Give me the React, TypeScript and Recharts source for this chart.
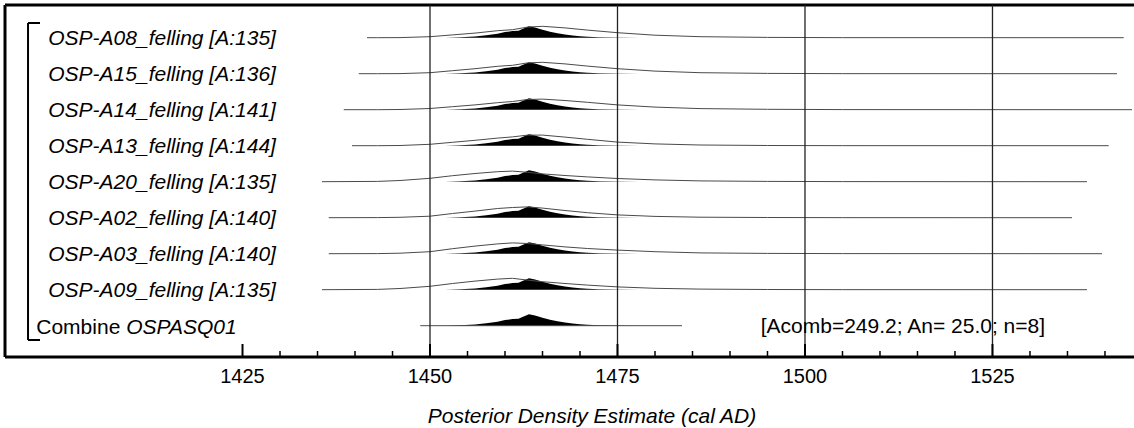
import React from "react";
import { ComposedChart, Line, Area, Scatter, XAxis, YAxis, ReferenceLine } from "recharts";

// --- Data ---

const ROW_NAMES = [
  "OSP-A08_felling [A:135]",
  "OSP-A15_felling [A:136]",
  "OSP-A14_felling [A:141]",
  "OSP-A13_felling [A:144]",
  "OSP-A20_felling [A:135]",
  "OSP-A02_felling [A:140]",
  "OSP-A03_felling [A:140]",
  "OSP-A09_felling [A:135]",
];

// extent of each row's range line (cal AD)
const LINE_START = [1441.6, 1440.5, 1438.5, 1439.6, 1435.6, 1436.5, 1436.5, 1435.6];
const LINE_END = [1542.5, 1541.6, 1543.6, 1540.5, 1537.6, 1535.6, 1539.6, 1537.6];

// likelihood outlines, sampled on these years
const LIKE_YEARS = [1443, 1446, 1450, 1453, 1456, 1459, 1461, 1463, 1465, 1468, 1471, 1475, 1480, 1486, 1495, 1505];
const LIKE_A08 = [0, 0.1, 1.0, 2.8, 4.6, 7.0, 8.0, 10.6, 11.4, 9.8, 7.6, 5.0, 2.5, 1.0, 0.3, 0.05];
const LIKE_A15 = [0, 0.1, 1.0, 3.0, 5.0, 7.4, 8.4, 10.8, 11.4, 9.8, 7.6, 5.0, 2.6, 1.0, 0.3, 0.05];
const LIKE_A14 = [0, 0.2, 1.2, 3.0, 4.8, 7.0, 8.2, 10.2, 10.6, 9.2, 7.4, 4.8, 2.6, 1.1, 0.4, 0.1];
const LIKE_A13 = [0, 0.2, 1.4, 3.4, 5.4, 7.6, 8.8, 10.6, 10.6, 8.6, 6.4, 3.6, 1.8, 0.7, 0.2, 0.05];
const LIKE_A20 = [0.3, 1.2, 3.4, 6.0, 8.2, 10.0, 10.6, 9.4, 7.8, 6.2, 4.8, 3.2, 1.8, 0.8, 0.3, 0.1];
const LIKE_A02 = [0.1, 0.4, 1.5, 4.2, 6.6, 9.2, 10.2, 10.8, 9.6, 7.2, 5.0, 2.8, 1.3, 0.5, 0.2, 0.05];
const LIKE_A03 = [0.1, 0.5, 2.0, 5.0, 7.6, 9.8, 10.8, 10.2, 8.8, 6.8, 5.2, 3.6, 2.0, 0.8, 0.3, 0.1];
const LIKE_A09 = [0.3, 1.2, 3.4, 6.2, 8.6, 10.6, 11.4, 9.6, 8.0, 6.2, 4.6, 2.8, 1.4, 0.6, 0.2, 0.05];
const LIKELIHOODS = [LIKE_A08, LIKE_A15, LIKE_A14, LIKE_A13, LIKE_A20, LIKE_A02, LIKE_A03, LIKE_A09];

// posterior (same for every row after the combine)
const POST_YEARS = [1452, 1454, 1456, 1457.5, 1459, 1460, 1461, 1461.8, 1462.4, 1463.2, 1464, 1465, 1466, 1467, 1468, 1469, 1470, 1471, 1472.5, 1475, 1478];
const POST_DENS = [0, 0.4, 1.3, 2.5, 4.0, 5.6, 6.6, 7.0, 9.0, 11.5, 10.2, 8.0, 6.0, 4.4, 3.1, 2.1, 1.4, 0.9, 0.4, 0.1, 0];

const COMBINE_NAME = "OSPASQ01";
const COMBINE_RANGE = [1448.7, 1483.6];
const COMBINE_STATS = "[Acomb=249.2; An= 25.0; n=8]";

const MAJOR_TICKS = [1425, 1450, 1475, 1500, 1525];
const ALL_TICKS = [1425, 1430, 1435, 1440, 1445, 1450, 1455, 1460, 1465, 1470, 1475, 1480, 1485, 1490, 1495, 1500, 1505, 1510, 1515, 1520, 1525, 1530, 1535, 1540];
const GRID_YEARS = [1450, 1475, 1500, 1525];
const AXIS_TITLE = "Posterior Density Estimate (cal AD)";

// --- Layout ---

const X_MIN = 1393.33;
const X_MAX = 1544.67;
const Y_MAX = 352;
const ROW_GAP = 36;
const COMBINE_BASE = 31.3;
const LABEL_X = 1399.1;
const COMBINE_LABEL_X = 1397.5;
const STATS_X = 1494.1;
const BRACKET_X = 1396.4;
const BRACKET_END = 1398.0;
const BRACKET_TOP = 334;
const BRACKET_BOT = 17;

const FONT = "'Liberation Sans', Arial, sans-serif";

const base = (i: number) => COMBINE_BASE + (8 - i) * ROW_GAP;

const likeData = LIKELIHOODS.map((dens, i) => [
  { x: LINE_START[i], y: base(i) },
  ...LIKE_YEARS.map((yr, k) => ({ x: yr, y: base(i) + dens[k] })),
  { x: LINE_END[i], y: base(i) },
]);

const postData = [0, 1, 2, 3, 4, 5, 6, 7, 8].map((i) =>
  POST_YEARS.map((yr, k) => ({ x: yr, y: [base(i), base(i) + POST_DENS[k]] }))
);

const combineLine = COMBINE_RANGE.map((yr) => ({ x: yr, y: base(8) }));

const labelData = ROW_NAMES.map((name, i) => ({ x: LABEL_X, y: base(i), name }));

const AxisTick = (props: any) => {
  const { x, y, payload } = props;
  const major = MAJOR_TICKS.includes(payload.value);
  return (
    <g>
      <line x1={x} x2={x} y1={y} y2={y - (major ? 13 : 6)} stroke="#000" strokeWidth={major ? 2 : 1.5} />
      {major && (
        <text x={x} y={y + 19} textAnchor="middle" dominantBaseline="central" fontSize={20} fontFamily={FONT} fill="#000">
          {payload.value}
        </text>
      )}
    </g>
  );
};

const RowLabel = (props: any) => (
  <text x={props.cx} y={props.cy} dominantBaseline="central" fontSize={21} fontStyle="italic" fontFamily={FONT} fill="#000">
    {props.payload.name}
  </text>
);

export default function App() {
  return (
    <div style={{ position: "absolute", left: 0, top: 0, width: 1134, height: 428, overflow: "hidden", background: "#fff" }}>
      <ComposedChart width={1140} height={428} margin={{ top: 5, right: 0, left: 5, bottom: 0 }}>
        <XAxis
          type="number"
          dataKey="x"
          domain={[X_MIN, X_MAX]}
          allowDataOverflow
          ticks={ALL_TICKS}
          interval={0}
          tick={<AxisTick />}
          tickLine={false}
          tickSize={0}
          tickMargin={0}
          height={71}
          axisLine={{ stroke: "#000", strokeWidth: 3 }}
          label={(p: any) => (
            <text
              x={(p.viewBox?.x ?? 5) + 587}
              y={(p.viewBox?.y ?? 357) + 58}
              textAnchor="middle"
              dominantBaseline="central"
              fontSize={21}
              fontStyle="italic"
              fontFamily={FONT}
              fill="#000"
            >
              {AXIS_TITLE}
            </text>
          )}
        />
        <YAxis type="number" dataKey="y" domain={[0, Y_MAX]} hide width={0} />

        {/* frame */}
        <ReferenceLine y={Y_MAX} stroke="#000" strokeWidth={3} />
        <ReferenceLine x={X_MIN} stroke="#000" strokeWidth={3} />

        {/* bracket */}
        <ReferenceLine segment={[{ x: BRACKET_X, y: BRACKET_TOP }, { x: BRACKET_X, y: BRACKET_BOT }]} stroke="#000" strokeWidth={2} />
        <ReferenceLine segment={[{ x: BRACKET_X, y: BRACKET_TOP }, { x: BRACKET_END, y: BRACKET_TOP }]} stroke="#000" strokeWidth={2} />
        <ReferenceLine segment={[{ x: BRACKET_X, y: BRACKET_BOT }, { x: BRACKET_END, y: BRACKET_BOT }]} stroke="#000" strokeWidth={2} />

        {likeData.map((d, i) => (
          <Line key={"l" + i} data={d} dataKey="y" type="linear" stroke="#4a4a4a" strokeWidth={1} dot={false} activeDot={false} isAnimationActive={false} />
        ))}
        <Line data={combineLine} dataKey="y" type="linear" stroke="#4a4a4a" strokeWidth={1} dot={false} activeDot={false} isAnimationActive={false} />

        {postData.map((d, i) => (
          <Area key={"p" + i} data={d} dataKey="y" type="linear" stroke="none" fill="#000" fillOpacity={1} dot={false} activeDot={false} isAnimationActive={false} />
        ))}

        {GRID_YEARS.map((yr) => (
          <ReferenceLine key={yr} x={yr} stroke="#222" strokeWidth={1.3} />
        ))}

        <Scatter data={labelData} dataKey="y" shape={<RowLabel />} isAnimationActive={false} />

        <ReferenceLine
          segment={[{ x: COMBINE_LABEL_X, y: base(8) }, { x: COMBINE_LABEL_X + 0.01, y: base(8) }]}
          stroke="none"
          label={(p: any) => (
            <text x={p.viewBox?.x} y={p.viewBox?.y} dominantBaseline="central" fontSize={21} fontFamily={FONT} fill="#000">
              <tspan>Combine </tspan>
              <tspan fontStyle="italic">{COMBINE_NAME}</tspan>
            </text>
          )}
        />
        <ReferenceLine
          segment={[{ x: STATS_X, y: base(8) }, { x: STATS_X + 0.01, y: base(8) }]}
          stroke="none"
          label={(p: any) => (
            <text x={p.viewBox?.x} y={p.viewBox?.y} dominantBaseline="central" fontSize={21} fontFamily={FONT} fill="#000">
              {COMBINE_STATS}
            </text>
          )}
        />
      </ComposedChart>
    </div>
  );
}
